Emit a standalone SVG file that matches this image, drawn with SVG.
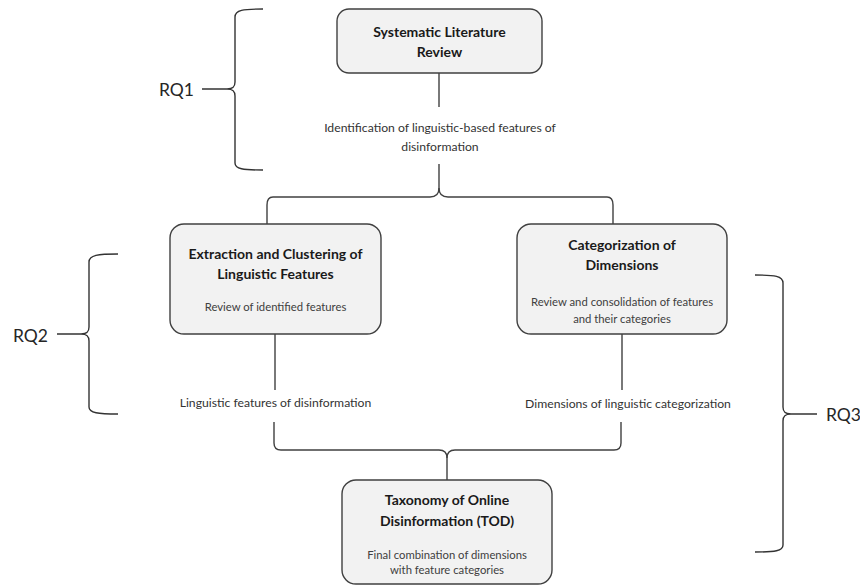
<svg xmlns="http://www.w3.org/2000/svg" width="860" height="588" viewBox="0 0 860 588">
<style>
.box{fill:#f2f2f2;stroke:#404040;stroke-width:1.4}
.ln{fill:none;stroke:#404040;stroke-width:1.4}
.br{fill:none;stroke:#333;stroke-width:1.4}
.t{font-family:Lato,"Liberation Sans",sans-serif;font-weight:bold;font-size:14px;fill:#1a1a1a;text-anchor:middle}
.s{font-family:Lato,"Liberation Sans",sans-serif;font-size:11.3px;fill:#404040;text-anchor:middle}
.c{font-family:Lato,"Liberation Sans",sans-serif;font-size:12.2px;fill:#333;text-anchor:middle}
.rq{font-family:Lato,"Liberation Sans",sans-serif;font-size:17.5px;fill:#262626}
</style>
<rect width="860" height="588" fill="#fff"/>
<g id="connectors">
<path class="ln" d="M439,73 L439,107"/>
<path class="ln" d="M439,164 L439,188 C439,194 436,197 430,197 L273,197 C269,197 267,199 267,205 L267,224"/>
<path class="ln" d="M439,188 C439,194 442,197 448,197 L607,197 C611,197 613,199 613,205 L613,224"/>
<path class="ln" d="M275,334 L275,390"/>
<path class="ln" d="M622,334 L622,390"/>
<path class="ln" d="M274,422 L274,443 C274,448 276,450 281,450 L439,450 C444,450 447,453 447,458 L447,480"/>
<path class="ln" d="M621,422 L621,443 C621,448 619,450 614,450 L455,450 C450,450 447,453 447,458"/>
<text class="c" x="440" y="132">Identification of linguistic-based features of</text>
<text class="c" x="440" y="151">disinformation</text>
<text class="c" x="275.5" y="407">Linguistic features of disinformation</text>
<text class="c" x="628" y="408">Dimensions of linguistic categorization</text>
</g>
<g id="rq1">
<path class="br" d="M263,9 C243,9 235,10 235,17 L235,82 C235,87 233,89 227,89 L202,89 M227,89 C233,89 235,91 235,96 L235,163 C235,169 243,170 263,170"/>
<text class="rq" x="159" y="96">RQ1</text>
</g>
<g id="rq2">
<path class="br" d="M118,254 C98,254 89,255 89,262 L89,327 C89,332 87,334 81,334 L57,334 M81,334 C87,334 89,336 89,341 L89,407 C89,413 98,414 118,414"/>
<text class="rq" x="13" y="342">RQ2</text>
</g>
<g id="rq3">
<path class="br" d="M755,275 C775,275 783,276 783,283 L783,407 C783,412 785,414 791,414 L817,414 M791,414 C785,414 783,416 783,421 L783,545 C783,551 775,552 755,552"/>
<text class="rq" x="826" y="421">RQ3</text>
</g>
<g id="box1">
<rect class="box" x="337" y="9" width="205" height="64" rx="12"/>
<text class="t" x="439.5" y="37">Systematic Literature</text>
<text class="t" x="439.5" y="57">Review</text>
</g>
<g id="box2">
<rect class="box" x="170" y="224" width="211" height="110" rx="14"/>
<text class="t" x="275.5" y="259">Extraction and Clustering of</text>
<text class="t" x="275.5" y="279">Linguistic Features</text>
<text class="s" x="275.5" y="311">Review of identified features</text>
</g>
<g id="box3">
<rect class="box" x="517" y="224" width="210" height="110" rx="14"/>
<text class="t" x="622" y="250">Categorization of</text>
<text class="t" x="622" y="270">Dimensions</text>
<text class="s" x="622" y="306">Review and consolidation of features</text>
<text class="s" x="622" y="323">and their categories</text>
</g>
<g id="box4">
<rect class="box" x="342" y="480" width="210" height="104" rx="14"/>
<text class="t" x="447" y="505">Taxonomy of Online</text>
<text class="t" x="447" y="526">Disinformation (TOD)</text>
<text class="s" x="447" y="559">Final combination of dimensions</text>
<text class="s" x="447" y="574">with feature categories</text>
</g>
</svg>
